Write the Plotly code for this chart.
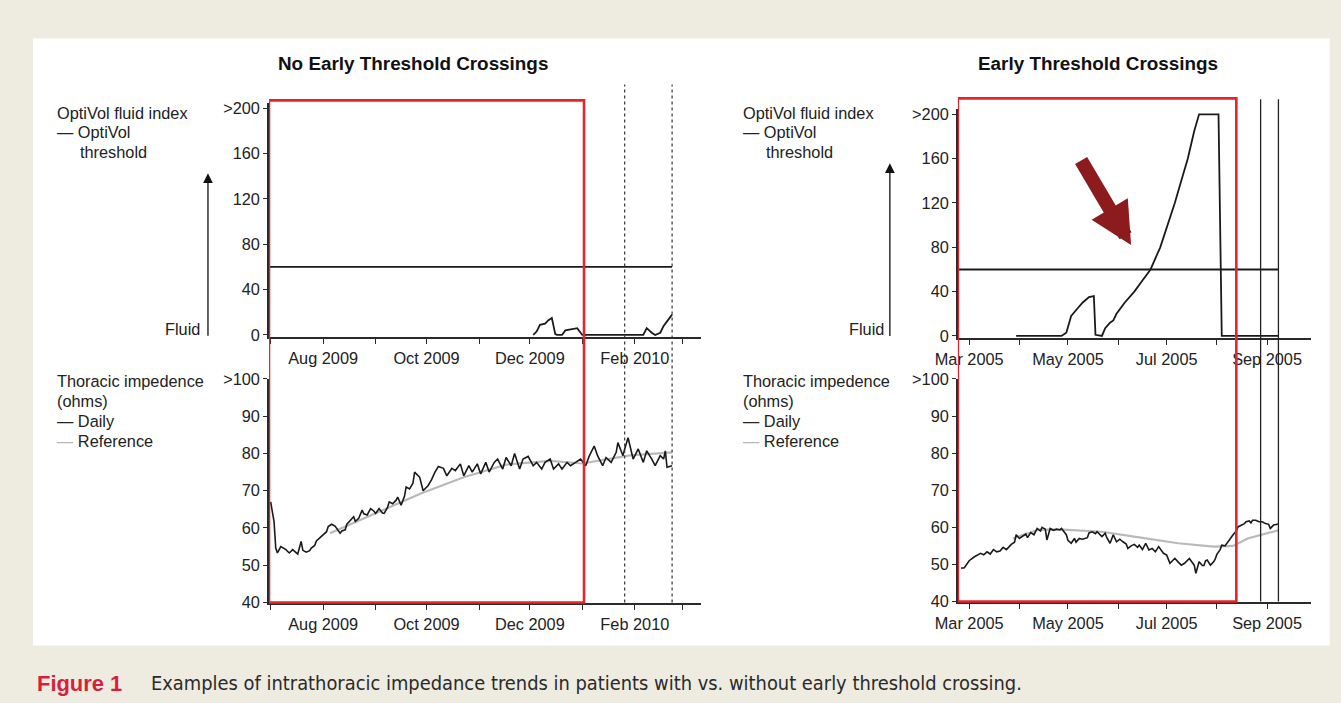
import plotly.graph_objects as go

W, H = 1341, 703
# The photographed figure appears slightly scaled/offset; positions below are given in
# photo pixels and mapped back to paper fractions.
OX, SX = 22.0, 0.983
OY, SY = 7.5, 0.976
FS = 1 / 0.98


def px(x):
    return ((x - OX) / SX) / W


def py(y):
    return 1 - ((y - OY) / SY) / H


# ---------------- DATA ----------------
THRESHOLD = 60

left_range = ["2009-06-30", "2010-03-12"]
left_month_ticks = ["2009-07-01", "2009-08-01", "2009-09-01", "2009-10-01", "2009-11-01",
                    "2009-12-01", "2010-01-01", "2010-02-01", "2010-03-01"]
left_month_labels = ["", "Aug 2009", "", "Oct 2009", "", "Dec 2009", "", "Feb 2010", ""]
left_thr_dates = ["2009-06-30", "2010-02-23"]
left_thr_vals = [THRESHOLD, THRESHOLD]
left_fluid_dates = ["2009-12-03", "2009-12-05", "2009-12-07", "2009-12-10", "2009-12-12", "2009-12-14",
                    "2009-12-15", "2009-12-16", "2009-12-17", "2009-12-20", "2009-12-22", "2009-12-26",
                    "2009-12-29", "2009-12-31", "2010-01-01", "2010-02-06", "2010-02-08", "2010-02-11",
                    "2010-02-13", "2010-02-16", "2010-02-18", "2010-02-21", "2010-02-23"]
left_fluid_vals = [0, 3, 9, 10, 13, 15, 8, 1, 0, 0, 4, 5, 6, 2, 0, 0, 6, 2, 0, 2, 8, 14, 18]
left_daily_dates = ["2009-07-01", "2009-07-02", "2009-07-03", "2009-07-04", "2009-07-05", "2009-07-07",
                    "2009-07-09", "2009-07-10", "2009-07-12", "2009-07-14", "2009-07-16", "2009-07-17",
                    "2009-07-19", "2009-07-20", "2009-07-22", "2009-07-24", "2009-07-25", "2009-07-27",
                    "2009-07-28", "2009-07-30", "2009-08-01", "2009-08-03", "2009-08-04", "2009-08-05",
                    "2009-08-06", "2009-08-08", "2009-08-10", "2009-08-11", "2009-08-12", "2009-08-14",
                    "2009-08-15", "2009-08-17", "2009-08-19", "2009-08-20", "2009-08-22", "2009-08-24",
                    "2009-08-25", "2009-08-27", "2009-08-29", "2009-08-31", "2009-09-01", "2009-09-03",
                    "2009-09-05", "2009-09-06", "2009-09-08", "2009-09-09", "2009-09-11", "2009-09-13",
                    "2009-09-14", "2009-09-16", "2009-09-18", "2009-09-19", "2009-09-21", "2009-09-23",
                    "2009-09-24", "2009-09-25", "2009-09-27", "2009-09-29", "2009-10-01", "2009-10-02",
                    "2009-10-04", "2009-10-06", "2009-10-08", "2009-10-11", "2009-10-13", "2009-10-16",
                    "2009-10-18", "2009-10-21", "2009-10-23", "2009-10-26", "2009-10-28", "2009-10-31",
                    "2009-11-02", "2009-11-05", "2009-11-07", "2009-11-10", "2009-11-12", "2009-11-15",
                    "2009-11-17", "2009-11-20", "2009-11-22", "2009-11-25", "2009-11-27", "2009-11-30",
                    "2009-12-03", "2009-12-05", "2009-12-08", "2009-12-10", "2009-12-13", "2009-12-15",
                    "2009-12-18", "2009-12-20", "2009-12-23", "2009-12-25", "2009-12-28", "2009-12-31",
                    "2010-01-03", "2010-01-05", "2010-01-08", "2010-01-10", "2010-01-13", "2010-01-15",
                    "2010-01-18", "2010-01-21", "2010-01-22", "2010-01-25", "2010-01-26", "2010-01-28",
                    "2010-01-31", "2010-02-03", "2010-02-06", "2010-02-08", "2010-02-11", "2010-02-13",
                    "2010-02-16", "2010-02-18", "2010-02-19", "2010-02-20", "2010-02-23"]
left_daily_vals = [67, 64.3, 61.7, 54.6, 53.3, 55, 54.6, 54.2, 53.3, 54.2, 53.4, 53,
                   56.4, 54, 53.5, 53.9, 54.6, 55.3, 56.5, 57.3, 58.2, 59, 60.4, 60.8,
                   61, 60.5, 59, 58.6, 59.2, 59.5, 61, 62.1, 63, 61.8, 62.6, 64.8,
                   63.8, 63.5, 65.2, 64.5, 63.9, 65.2, 64, 63.9, 65.5, 67, 66.5, 67.4,
                   68.3, 66.1, 68.5, 71, 70.5, 72, 75, 74.5, 73.6, 70, 71, 71.4,
                   73, 75, 76.5, 76, 74, 76, 75.4, 77.2, 74, 76.7, 75, 77.2,
                   74.5, 77.6, 75, 77.6, 78.5, 75.8, 78.9, 76.7, 80, 75.8, 78.5, 79.2,
                   76.7, 77.6, 75.8, 77.6, 78.5, 75.8, 77.2, 75.8, 77.6, 76.7, 77.6, 78.5,
                   76.7, 79.2, 82, 79.4, 76.7, 78.9, 77.6, 80.3, 82.9, 79.4, 81.2, 84.2,
                   78.5, 81.2, 77.6, 80.7, 78.5, 76.7, 79.4, 78.5, 80.7, 76.3, 76.7]
left_ref_dates = ["2009-08-05", "2009-09-28", "2009-10-23", "2009-11-17", "2009-12-13",
                  "2010-01-01", "2010-01-29", "2010-02-23"]
left_ref_vals = [58.6, 69.3, 73.6, 77, 78, 77.3, 79.5, 80.3]
left_box_dates = ["2009-06-30", "2010-01-02"]
left_event_dates = ["2010-01-26", "2010-02-23"]

right_range = ["2005-02-22", "2005-09-28"]
right_month_ticks = ["2005-03-01", "2005-04-01", "2005-05-01", "2005-06-01", "2005-07-01",
                     "2005-08-01", "2005-09-01"]
right_month_labels = ["Mar 2005", "", "May 2005", "", "Jul 2005", "", "Sep 2005"]
right_thr_dates = ["2005-02-22", "2005-09-08"]
right_thr_vals = [THRESHOLD, THRESHOLD]
right_fluid_dates = ["2005-03-30", "2005-04-27", "2005-04-30", "2005-05-03", "2005-05-07", "2005-05-10",
                     "2005-05-14", "2005-05-16", "2005-05-17", "2005-05-18", "2005-05-22", "2005-05-24",
                     "2005-05-27", "2005-05-29", "2005-05-31", "2005-06-05", "2005-06-11", "2005-06-16",
                     "2005-06-21", "2005-06-27", "2005-07-01", "2005-07-06", "2005-07-10", "2005-07-14",
                     "2005-07-18", "2005-07-21", "2005-08-02", "2005-08-03", "2005-08-04", "2005-09-08"]
right_fluid_vals = [0, 0, 3, 18, 25, 30, 35, 36, 36, 1, 0, 7, 12, 14, 20, 30, 40, 50,
                    60, 80, 97, 120, 140, 160, 185, 200, 200, 110, 0, 0]
right_daily_dates = ["2005-02-24", "2005-02-26", "2005-03-01", "2005-03-04", "2005-03-08", "2005-03-10",
                     "2005-03-12", "2005-03-14", "2005-03-16", "2005-03-18", "2005-03-20", "2005-03-22",
                     "2005-03-24", "2005-03-27", "2005-03-29", "2005-03-30", "2005-04-01", "2005-04-03",
                     "2005-04-05", "2005-04-06", "2005-04-08", "2005-04-10", "2005-04-12", "2005-04-14",
                     "2005-04-15", "2005-04-17", "2005-04-18", "2005-04-20", "2005-04-22", "2005-04-24",
                     "2005-04-26", "2005-04-27", "2005-04-30", "2005-05-01", "2005-05-03", "2005-05-05",
                     "2005-05-06", "2005-05-08", "2005-05-10", "2005-05-13", "2005-05-14", "2005-05-16",
                     "2005-05-18", "2005-05-19", "2005-05-22", "2005-05-24", "2005-05-25", "2005-05-27",
                     "2005-05-29", "2005-05-31", "2005-06-02", "2005-06-04", "2005-06-06", "2005-06-07",
                     "2005-06-09", "2005-06-11", "2005-06-13", "2005-06-14", "2005-06-16", "2005-06-18",
                     "2005-06-20", "2005-06-22", "2005-06-24", "2005-06-26", "2005-06-27", "2005-06-29",
                     "2005-07-01", "2005-07-02", "2005-07-03", "2005-07-05", "2005-07-06", "2005-07-08",
                     "2005-07-10", "2005-07-12", "2005-07-14", "2005-07-15", "2005-07-17", "2005-07-18",
                     "2005-07-19", "2005-07-20", "2005-07-21", "2005-07-23", "2005-07-24", "2005-07-25",
                     "2005-07-26", "2005-07-28", "2005-07-30", "2005-07-31", "2005-08-01", "2005-08-03",
                     "2005-08-04", "2005-08-06", "2005-08-07", "2005-08-09", "2005-08-11", "2005-08-13",
                     "2005-08-14", "2005-08-16", "2005-08-18", "2005-08-19", "2005-08-21", "2005-08-22",
                     "2005-08-23", "2005-08-25", "2005-08-27", "2005-08-29", "2005-08-31", "2005-09-02",
                     "2005-09-03", "2005-09-05", "2005-09-08"]
right_daily_vals = [49, 49.1, 51, 52, 53, 52.6, 53.4, 52.8, 54, 53.4, 53.6, 54.6,
                    54, 55.4, 56, 58, 57, 57.5, 58.2, 57.2, 58.6, 58, 59.7, 59,
                    60, 59.5, 56.6, 59.7, 59.2, 59.5, 59.3, 59.7, 58, 56.5, 55.7, 57,
                    56, 57, 56.8, 57.2, 58.5, 58.8, 58.3, 58.8, 57.5, 58.4, 57.2, 55.7,
                    58, 56.1, 56.8, 56.1, 55.5, 54.3, 55, 55.4, 54.6, 55.2, 54, 55.7,
                    53.9, 54.3, 53.4, 54.8, 54.3, 53, 52.5, 51.5, 50.3, 51.2, 51.6, 50.7,
                    49.8, 50.3, 51, 51.6, 50.4, 49.8, 47.6, 49.5, 50.7, 49.7, 49.7, 51,
                    51.2, 49.8, 50.7, 51.5, 52.7, 54, 55.2, 55, 55.7, 56.8, 58, 59,
                    60.1, 60.5, 61, 61.5, 61.7, 61.2, 61.9, 61.9, 61.5, 61.5, 61, 60.8,
                    59.7, 60.6, 60.9]
right_ref_dates = ["2005-03-28", "2005-04-13", "2005-04-28", "2005-05-22", "2005-06-14",
                   "2005-07-08", "2005-07-30", "2005-08-11", "2005-08-20", "2005-08-29", "2005-09-08"]
right_ref_vals = [57, 59.4, 59.4, 58.8, 57.3, 55.7, 54.8, 55, 57, 58, 59.2]
right_box_dates = ["2005-02-22", "2005-08-13"]
right_event_dates = ["2005-08-28", "2005-09-08"]
arrow_tip_date, arrow_tip_val = "2005-06-09", 82

fluid_ticks = [0, 40, 80, 120, 160, 200]
fluid_labels = ["0", "40", "80", "120", "160", ">200"]
imp_ticks = [40, 50, 60, 70, 80, 90, 100]
imp_labels = ["40", "50", "60", "70", "80", "90", ">100"]

# ---------------- STYLE ----------------
FONT = "Liberation Sans, Arial, Helvetica, sans-serif"
BEIGE = "#eeebe1"
RED = "#e4252d"
DARK_RED = "#8c1b1e"
GRAY = "#b9b9b9"
INK = "#1a1a1a"

fig = go.Figure()

def line(x, y, xa, ya, color=INK, width=1.8):
    fig.add_trace(go.Scatter(x=x, y=y, mode="lines", xaxis=xa, yaxis=ya,
                             line=dict(color=color, width=width), showlegend=False,
                             hoverinfo="skip"))

line(left_thr_dates, left_thr_vals, "x", "y")
line(left_fluid_dates, left_fluid_vals, "x", "y")
line(left_ref_dates, left_ref_vals, "x2", "y2", color=GRAY, width=2.2)
line(left_daily_dates, left_daily_vals, "x2", "y2", width=1.6)
line(right_thr_dates, right_thr_vals, "x3", "y3")
line(right_fluid_dates, right_fluid_vals, "x3", "y3")
line(right_ref_dates, right_ref_vals, "x4", "y4", color=GRAY, width=2.2)
line(right_daily_dates, right_daily_vals, "x4", "y4", width=1.6)

tickfont = dict(family=FONT, size=16 * FS, color="#222")

def xax(dom, anchor, rng, tv, tt):
    return dict(domain=dom, anchor=anchor, type="date", range=rng, tickvals=tv, ticktext=tt,
                showgrid=False, zeroline=False, showline=True, linecolor="#2a2a2a", linewidth=1.5,
                ticks="outside", ticklen=6, tickwidth=1.3, tickcolor="#2a2a2a",
                tickfont=tickfont, fixedrange=True)

def yax(dom, anchor, rng, tv, tt):
    return dict(domain=dom, anchor=anchor, range=rng, tickvals=tv, ticktext=tt,
                showgrid=False, zeroline=False, showline=True, linecolor="#2a2a2a", linewidth=1.5,
                ticks="outside", ticklen=4, tickwidth=1.3, tickcolor="#2a2a2a",
                tickfont=tickfont, fixedrange=True)

LX = [px(268), px(700)]
RX = [px(957), px(1310)]
lt_unit = (334 - 107) / 200
rt_unit = (335 - 113) / 200
FL_RANGE = [-1.5, 205]
LT_DOM = [py(334 + 1.5 * lt_unit), py(334 - 205 * lt_unit)]
RT_DOM = [py(335 + 1.5 * rt_unit), py(335 - 205 * rt_unit)]
LB_DOM = [py(602), py(378)]
RB_DOM = [py(601), py(378)]

fig.update_layout(
    xaxis=xax(LX, "y", left_range, left_month_ticks, left_month_labels),
    yaxis=yax(LT_DOM, "x", FL_RANGE, fluid_ticks, fluid_labels),
    xaxis2=xax(LX, "y2", left_range, left_month_ticks, left_month_labels),
    yaxis2=yax(LB_DOM, "x2", [40, 100], imp_ticks, imp_labels),
    xaxis3=xax(RX, "y3", right_range, right_month_ticks, right_month_labels),
    yaxis3=yax(RT_DOM, "x3", FL_RANGE, fluid_ticks, fluid_labels),
    xaxis4=xax(RX, "y4", right_range, right_month_ticks, right_month_labels),
    yaxis4=yax(RB_DOM, "x4", [40, 100], imp_ticks, imp_labels),
)

# ---------------- SHAPES ----------------
shapes = [
    dict(type="rect", xref="paper", yref="paper", x0=px(32), x1=px(1329), y0=py(645), y1=py(37),
         fillcolor="white", line_width=0, layer="below"),
]
for d in left_event_dates:
    shapes.append(dict(type="line", xref="x", yref="paper", x0=d, x1=d, y0=py(602), y1=py(83),
                       line=dict(color="#333", width=1.2, dash="dot"), layer="above"))
for d in right_event_dates:
    shapes.append(dict(type="line", xref="x3", yref="paper", x0=d, x1=d, y0=py(601), y1=py(98),
                       line=dict(color="#222", width=1.3), layer="above"))
shapes.append(dict(type="rect", xref="x", yref="paper", x0=left_box_dates[0], x1=left_box_dates[1],
                   y0=py(602), y1=py(99), line=dict(color=RED, width=2.6), fillcolor="rgba(0,0,0,0)",
                   layer="above"))
shapes.append(dict(type="rect", xref="x3", yref="paper", x0=right_box_dates[0], x1=right_box_dates[1],
                   y0=py(601), y1=py(97), line=dict(color=RED, width=2.6), fillcolor="rgba(0,0,0,0)",
                   layer="above"))
fig.update_layout(shapes=shapes)

# ---------------- TEXT ----------------
ann = []

def txt(x, y, s, size=16, xanchor="left", color="#222", bold=False, family=FONT):
    ann.append(dict(x=px(x), y=py(y), xref="paper", yref="paper", text=(f"<b>{s}</b>" if bold else s),
                    showarrow=False, xanchor=xanchor, yanchor="middle",
                    font=dict(family=family, size=size * FS, color=color)))

txt(412, 62, "No Early Threshold Crossings", size=18.5, xanchor="center", color="#111", bold=True)
txt(1097, 62, "Early Threshold Crossings", size=18.5, xanchor="center", color="#111", bold=True)

for x0 in (54, 740):
    txt(x0, 112, "OptiVol fluid index")
    txt(x0, 131, "— OptiVol")
    txt(x0 + 23, 151, "threshold")
    txt(x0, 380, "Thoracic impedence")
    txt(x0, 400, "(ohms)")
    txt(x0, 420, "— Daily")
    txt(x0, 440, f"<span style='color:{GRAY}'>—</span> Reference")

txt(201, 328, "Fluid", xanchor="right")
txt(885, 328, "Fluid", xanchor="right")

for xa, tail, tip in ((207, 332, 172), (889, 332, 162)):
    ann.append(dict(x=px(xa), y=py(tip), xref="paper", yref="paper", ax=0, ay=(tail - tip) / SY,
                    text="", showarrow=True, arrowhead=2, arrowsize=1.5, arrowwidth=1.3,
                    arrowcolor="#111"))

ann.append(dict(x=arrow_tip_date, y=arrow_tip_val, xref="x3", yref="y3", ax=-50 / SX, ay=-84 / SY,
                text="", showarrow=True, arrowhead=2, arrowsize=0.6, arrowwidth=14,
                arrowcolor=DARK_RED))

txt(34, 683, "Figure 1", size=21.5, color="#d71f3c", bold=True)
txt(148, 683, "Examples of intrathoracic impedance trends in patients with vs. without early threshold crossing.",
    size=19.5, color="#2a2a2a", family="DejaVu Sans Condensed, Liberation Sans Narrow, Liberation Sans")

fig.update_layout(annotations=ann)

fig.update_layout(width=W, height=H, autosize=False, margin=dict(l=0, r=0, t=0, b=0),
                  paper_bgcolor=BEIGE, plot_bgcolor="rgba(0,0,0,0)", showlegend=False,
                  font=dict(family=FONT, color="#222"))

fig.write_html("out.html")
